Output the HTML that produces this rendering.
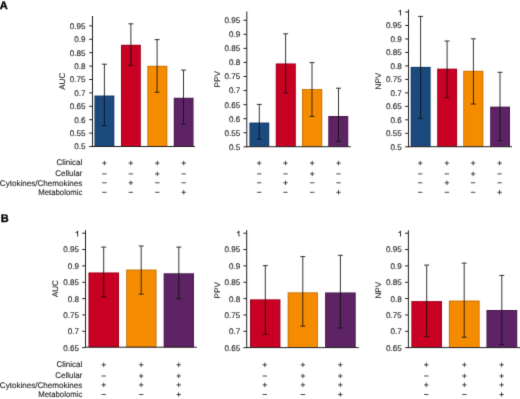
<!DOCTYPE html>
<html><head><meta charset="utf-8"><style>
html,body{margin:0;padding:0;background:#fff;}
body{width:520px;height:399px;overflow:hidden;}
svg{display:block;will-change:transform;font-family:"Liberation Sans",sans-serif;}
text{fill:#231f20;stroke:#231f20;stroke-width:0.13px;text-rendering:geometricPrecision;}
</style></head><body>
<svg width="520" height="399" viewBox="0 0 520 399">
<defs><filter id="bl" x="0" y="0" width="1" height="1" filterUnits="objectBoundingBox" primitiveUnits="userSpaceOnUse" color-interpolation-filters="sRGB"><feConvolveMatrix order="3" kernelMatrix="0.01134 0.08382 0.01134 0.08382 0.61935 0.08382 0.01134 0.08382 0.01134" divisor="1" edgeMode="duplicate"/></filter></defs>
<rect width="520" height="399" fill="#fff"/>
<g filter="url(#bl)">
<rect width="520" height="399" fill="#fff"/>
<rect x="94.50" y="95.60" width="19.80" height="50.90" fill="#1b4a7e"/>
<rect x="94.90" y="96.00" width="19.00" height="50.50" fill="none" stroke="#000" stroke-opacity="0.22" stroke-width="0.80"/>
<rect x="121.00" y="44.80" width="19.80" height="101.70" fill="#c80023"/>
<rect x="121.40" y="45.20" width="19.00" height="101.30" fill="none" stroke="#000" stroke-opacity="0.22" stroke-width="0.80"/>
<rect x="147.40" y="65.80" width="19.90" height="80.70" fill="#f58c00"/>
<rect x="147.80" y="66.20" width="19.10" height="80.30" fill="none" stroke="#000" stroke-opacity="0.22" stroke-width="0.80"/>
<rect x="173.80" y="97.80" width="19.70" height="48.70" fill="#5d2364"/>
<rect x="174.20" y="98.20" width="18.90" height="48.30" fill="none" stroke="#000" stroke-opacity="0.22" stroke-width="0.80"/>
<line x1="104.40" y1="64.20" x2="104.40" y2="125.50" stroke="#111" stroke-width="0.85"/>
<line x1="101.90" y1="64.20" x2="106.90" y2="64.20" stroke="#111" stroke-width="0.85"/>
<line x1="101.90" y1="125.50" x2="106.90" y2="125.50" stroke="#111" stroke-width="0.85"/>
<line x1="130.90" y1="23.80" x2="130.90" y2="65.30" stroke="#111" stroke-width="0.85"/>
<line x1="128.40" y1="23.80" x2="133.40" y2="23.80" stroke="#111" stroke-width="0.85"/>
<line x1="128.40" y1="65.30" x2="133.40" y2="65.30" stroke="#111" stroke-width="0.85"/>
<line x1="157.10" y1="39.60" x2="157.10" y2="92.30" stroke="#111" stroke-width="0.85"/>
<line x1="154.60" y1="39.60" x2="159.60" y2="39.60" stroke="#111" stroke-width="0.85"/>
<line x1="154.60" y1="92.30" x2="159.60" y2="92.30" stroke="#111" stroke-width="0.85"/>
<line x1="183.50" y1="70.10" x2="183.50" y2="124.00" stroke="#111" stroke-width="0.85"/>
<line x1="181.00" y1="70.10" x2="186.00" y2="70.10" stroke="#111" stroke-width="0.85"/>
<line x1="181.00" y1="124.00" x2="186.00" y2="124.00" stroke="#111" stroke-width="0.85"/>
<line x1="92.50" y1="16.00" x2="92.50" y2="147.00" stroke="#231f20" stroke-width="1"/>
<line x1="92.00" y1="146.50" x2="195.00" y2="146.50" stroke="#231f20" stroke-width="1"/>
<line x1="89.20" y1="146.50" x2="92.50" y2="146.50" stroke="#231f20" stroke-width="1"/>
<text x="85.60" y="149.40" text-anchor="end" font-size="8.1" >0.5</text>
<line x1="89.20" y1="133.10" x2="92.50" y2="133.10" stroke="#231f20" stroke-width="1"/>
<text x="85.60" y="136.00" text-anchor="end" font-size="8.1" >0.55</text>
<line x1="89.20" y1="119.70" x2="92.50" y2="119.70" stroke="#231f20" stroke-width="1"/>
<text x="85.60" y="122.60" text-anchor="end" font-size="8.1" >0.6</text>
<line x1="89.20" y1="106.30" x2="92.50" y2="106.30" stroke="#231f20" stroke-width="1"/>
<text x="85.60" y="109.20" text-anchor="end" font-size="8.1" >0.65</text>
<line x1="89.20" y1="92.90" x2="92.50" y2="92.90" stroke="#231f20" stroke-width="1"/>
<text x="85.60" y="95.80" text-anchor="end" font-size="8.1" >0.7</text>
<line x1="89.20" y1="79.50" x2="92.50" y2="79.50" stroke="#231f20" stroke-width="1"/>
<text x="85.60" y="82.40" text-anchor="end" font-size="8.1" >0.75</text>
<line x1="89.20" y1="66.10" x2="92.50" y2="66.10" stroke="#231f20" stroke-width="1"/>
<text x="85.60" y="69.00" text-anchor="end" font-size="8.1" >0.8</text>
<line x1="89.20" y1="52.70" x2="92.50" y2="52.70" stroke="#231f20" stroke-width="1"/>
<text x="85.60" y="55.60" text-anchor="end" font-size="8.1" >0.85</text>
<line x1="89.20" y1="39.30" x2="92.50" y2="39.30" stroke="#231f20" stroke-width="1"/>
<text x="85.60" y="42.20" text-anchor="end" font-size="8.1" >0.9</text>
<line x1="89.20" y1="25.90" x2="92.50" y2="25.90" stroke="#231f20" stroke-width="1"/>
<text x="85.60" y="28.80" text-anchor="end" font-size="8.1" >0.95</text>
<text x="0" y="0" text-anchor="middle" font-size="8.1" transform="translate(62.10,81.30) rotate(-90)" dy="2.90">AUC</text>
<rect x="249.50" y="122.60" width="19.70" height="24.10" fill="#1b4a7e"/>
<rect x="249.90" y="123.00" width="18.90" height="23.70" fill="none" stroke="#000" stroke-opacity="0.22" stroke-width="0.80"/>
<rect x="275.80" y="63.50" width="20.00" height="83.20" fill="#c80023"/>
<rect x="276.20" y="63.90" width="19.20" height="82.80" fill="none" stroke="#000" stroke-opacity="0.22" stroke-width="0.80"/>
<rect x="302.00" y="89.10" width="20.20" height="57.60" fill="#f58c00"/>
<rect x="302.40" y="89.50" width="19.40" height="57.20" fill="none" stroke="#000" stroke-opacity="0.22" stroke-width="0.80"/>
<rect x="328.30" y="116.00" width="19.90" height="30.70" fill="#5d2364"/>
<rect x="328.70" y="116.40" width="19.10" height="30.30" fill="none" stroke="#000" stroke-opacity="0.22" stroke-width="0.80"/>
<line x1="259.30" y1="104.40" x2="259.30" y2="139.10" stroke="#111" stroke-width="0.85"/>
<line x1="256.80" y1="104.40" x2="261.80" y2="104.40" stroke="#111" stroke-width="0.85"/>
<line x1="256.80" y1="139.10" x2="261.80" y2="139.10" stroke="#111" stroke-width="0.85"/>
<line x1="285.60" y1="33.80" x2="285.60" y2="92.90" stroke="#111" stroke-width="0.85"/>
<line x1="283.10" y1="33.80" x2="288.10" y2="33.80" stroke="#111" stroke-width="0.85"/>
<line x1="283.10" y1="92.90" x2="288.10" y2="92.90" stroke="#111" stroke-width="0.85"/>
<line x1="312.00" y1="62.60" x2="312.00" y2="116.50" stroke="#111" stroke-width="0.85"/>
<line x1="309.50" y1="62.60" x2="314.50" y2="62.60" stroke="#111" stroke-width="0.85"/>
<line x1="309.50" y1="116.50" x2="314.50" y2="116.50" stroke="#111" stroke-width="0.85"/>
<line x1="338.50" y1="88.20" x2="338.50" y2="141.30" stroke="#111" stroke-width="0.85"/>
<line x1="336.00" y1="88.20" x2="341.00" y2="88.20" stroke="#111" stroke-width="0.85"/>
<line x1="336.00" y1="141.30" x2="341.00" y2="141.30" stroke="#111" stroke-width="0.85"/>
<line x1="246.80" y1="11.50" x2="246.80" y2="147.20" stroke="#231f20" stroke-width="1"/>
<line x1="246.30" y1="146.70" x2="350.60" y2="146.70" stroke="#231f20" stroke-width="1"/>
<line x1="243.50" y1="146.80" x2="246.80" y2="146.80" stroke="#231f20" stroke-width="1"/>
<text x="240.20" y="149.70" text-anchor="end" font-size="8.1" >0.5</text>
<line x1="243.50" y1="132.74" x2="246.80" y2="132.74" stroke="#231f20" stroke-width="1"/>
<text x="240.20" y="135.64" text-anchor="end" font-size="8.1" >0.55</text>
<line x1="243.50" y1="118.68" x2="246.80" y2="118.68" stroke="#231f20" stroke-width="1"/>
<text x="240.20" y="121.58" text-anchor="end" font-size="8.1" >0.6</text>
<line x1="243.50" y1="104.62" x2="246.80" y2="104.62" stroke="#231f20" stroke-width="1"/>
<text x="240.20" y="107.52" text-anchor="end" font-size="8.1" >0.65</text>
<line x1="243.50" y1="90.56" x2="246.80" y2="90.56" stroke="#231f20" stroke-width="1"/>
<text x="240.20" y="93.46" text-anchor="end" font-size="8.1" >0.7</text>
<line x1="243.50" y1="76.50" x2="246.80" y2="76.50" stroke="#231f20" stroke-width="1"/>
<text x="240.20" y="79.40" text-anchor="end" font-size="8.1" >0.75</text>
<line x1="243.50" y1="62.44" x2="246.80" y2="62.44" stroke="#231f20" stroke-width="1"/>
<text x="240.20" y="65.34" text-anchor="end" font-size="8.1" >0.8</text>
<line x1="243.50" y1="48.38" x2="246.80" y2="48.38" stroke="#231f20" stroke-width="1"/>
<text x="240.20" y="51.28" text-anchor="end" font-size="8.1" >0.85</text>
<line x1="243.50" y1="34.32" x2="246.80" y2="34.32" stroke="#231f20" stroke-width="1"/>
<text x="240.20" y="37.22" text-anchor="end" font-size="8.1" >0.9</text>
<line x1="243.50" y1="20.26" x2="246.80" y2="20.26" stroke="#231f20" stroke-width="1"/>
<text x="240.20" y="23.16" text-anchor="end" font-size="8.1" >0.95</text>
<text x="0" y="0" text-anchor="middle" font-size="8.1" transform="translate(216.80,79.30) rotate(-90)" dy="2.90">PPV</text>
<rect x="410.70" y="66.90" width="19.90" height="79.80" fill="#1b4a7e"/>
<rect x="411.10" y="67.30" width="19.10" height="79.40" fill="none" stroke="#000" stroke-opacity="0.22" stroke-width="0.80"/>
<rect x="437.20" y="68.70" width="19.90" height="78.00" fill="#c80023"/>
<rect x="437.60" y="69.10" width="19.10" height="77.60" fill="none" stroke="#000" stroke-opacity="0.22" stroke-width="0.80"/>
<rect x="463.30" y="70.80" width="20.00" height="75.90" fill="#f58c00"/>
<rect x="463.70" y="71.20" width="19.20" height="75.50" fill="none" stroke="#000" stroke-opacity="0.22" stroke-width="0.80"/>
<rect x="490.20" y="106.70" width="19.80" height="40.00" fill="#5d2364"/>
<rect x="490.60" y="107.10" width="19.00" height="39.60" fill="none" stroke="#000" stroke-opacity="0.22" stroke-width="0.80"/>
<line x1="420.60" y1="16.40" x2="420.60" y2="118.40" stroke="#111" stroke-width="0.85"/>
<line x1="418.10" y1="16.40" x2="423.10" y2="16.40" stroke="#111" stroke-width="0.85"/>
<line x1="418.10" y1="118.40" x2="423.10" y2="118.40" stroke="#111" stroke-width="0.85"/>
<line x1="447.10" y1="41.00" x2="447.10" y2="97.70" stroke="#111" stroke-width="0.85"/>
<line x1="444.60" y1="41.00" x2="449.60" y2="41.00" stroke="#111" stroke-width="0.85"/>
<line x1="444.60" y1="97.70" x2="449.60" y2="97.70" stroke="#111" stroke-width="0.85"/>
<line x1="473.40" y1="38.80" x2="473.40" y2="104.00" stroke="#111" stroke-width="0.85"/>
<line x1="470.90" y1="38.80" x2="475.90" y2="38.80" stroke="#111" stroke-width="0.85"/>
<line x1="470.90" y1="104.00" x2="475.90" y2="104.00" stroke="#111" stroke-width="0.85"/>
<line x1="500.00" y1="72.30" x2="500.00" y2="140.50" stroke="#111" stroke-width="0.85"/>
<line x1="497.50" y1="72.30" x2="502.50" y2="72.30" stroke="#111" stroke-width="0.85"/>
<line x1="497.50" y1="140.50" x2="502.50" y2="140.50" stroke="#111" stroke-width="0.85"/>
<line x1="408.50" y1="9.50" x2="408.50" y2="147.20" stroke="#231f20" stroke-width="1"/>
<line x1="408.00" y1="146.70" x2="512.00" y2="146.70" stroke="#231f20" stroke-width="1"/>
<line x1="405.20" y1="146.80" x2="408.50" y2="146.80" stroke="#231f20" stroke-width="1"/>
<text x="401.70" y="149.70" text-anchor="end" font-size="8.1" >0.5</text>
<line x1="405.20" y1="133.32" x2="408.50" y2="133.32" stroke="#231f20" stroke-width="1"/>
<text x="401.70" y="136.22" text-anchor="end" font-size="8.1" >0.55</text>
<line x1="405.20" y1="119.84" x2="408.50" y2="119.84" stroke="#231f20" stroke-width="1"/>
<text x="401.70" y="122.74" text-anchor="end" font-size="8.1" >0.6</text>
<line x1="405.20" y1="106.36" x2="408.50" y2="106.36" stroke="#231f20" stroke-width="1"/>
<text x="401.70" y="109.26" text-anchor="end" font-size="8.1" >0.65</text>
<line x1="405.20" y1="92.88" x2="408.50" y2="92.88" stroke="#231f20" stroke-width="1"/>
<text x="401.70" y="95.78" text-anchor="end" font-size="8.1" >0.7</text>
<line x1="405.20" y1="79.40" x2="408.50" y2="79.40" stroke="#231f20" stroke-width="1"/>
<text x="401.70" y="82.30" text-anchor="end" font-size="8.1" >0.75</text>
<line x1="405.20" y1="65.92" x2="408.50" y2="65.92" stroke="#231f20" stroke-width="1"/>
<text x="401.70" y="68.82" text-anchor="end" font-size="8.1" >0.8</text>
<line x1="405.20" y1="52.44" x2="408.50" y2="52.44" stroke="#231f20" stroke-width="1"/>
<text x="401.70" y="55.34" text-anchor="end" font-size="8.1" >0.85</text>
<line x1="405.20" y1="38.96" x2="408.50" y2="38.96" stroke="#231f20" stroke-width="1"/>
<text x="401.70" y="41.86" text-anchor="end" font-size="8.1" >0.9</text>
<line x1="405.20" y1="25.48" x2="408.50" y2="25.48" stroke="#231f20" stroke-width="1"/>
<text x="401.70" y="28.38" text-anchor="end" font-size="8.1" >0.95</text>
<line x1="405.20" y1="12.00" x2="408.50" y2="12.00" stroke="#231f20" stroke-width="1"/>
<path transform="translate(400.90,15.40)" d="M0,0 V-5.75 H-0.8 C-1.0,-4.95 -1.7,-4.6 -2.6,-4.5 V-3.9 H-0.9 V0 Z" fill="#231f20"/>
<text x="0" y="0" text-anchor="middle" font-size="8.1" transform="translate(378.30,81.10) rotate(-90)" dy="2.90">NPV</text>
<line x1="102.20" y1="163.10" x2="106.60" y2="163.10" stroke="#333" stroke-width="0.9"/>
<line x1="104.40" y1="160.90" x2="104.40" y2="165.30" stroke="#333" stroke-width="0.9"/>
<line x1="128.60" y1="163.10" x2="133.00" y2="163.10" stroke="#333" stroke-width="0.9"/>
<line x1="130.80" y1="160.90" x2="130.80" y2="165.30" stroke="#333" stroke-width="0.9"/>
<line x1="155.10" y1="163.10" x2="159.50" y2="163.10" stroke="#333" stroke-width="0.9"/>
<line x1="157.30" y1="160.90" x2="157.30" y2="165.30" stroke="#333" stroke-width="0.9"/>
<line x1="181.50" y1="163.10" x2="185.90" y2="163.10" stroke="#333" stroke-width="0.9"/>
<line x1="183.70" y1="160.90" x2="183.70" y2="165.30" stroke="#333" stroke-width="0.9"/>
<line x1="102.20" y1="173.90" x2="106.60" y2="173.90" stroke="#333" stroke-width="0.9"/>
<line x1="128.60" y1="173.90" x2="133.00" y2="173.90" stroke="#333" stroke-width="0.9"/>
<line x1="155.10" y1="173.90" x2="159.50" y2="173.90" stroke="#333" stroke-width="0.9"/>
<line x1="157.30" y1="171.70" x2="157.30" y2="176.10" stroke="#333" stroke-width="0.9"/>
<line x1="181.50" y1="173.90" x2="185.90" y2="173.90" stroke="#333" stroke-width="0.9"/>
<line x1="102.20" y1="182.80" x2="106.60" y2="182.80" stroke="#333" stroke-width="0.9"/>
<line x1="128.60" y1="182.80" x2="133.00" y2="182.80" stroke="#333" stroke-width="0.9"/>
<line x1="130.80" y1="180.60" x2="130.80" y2="185.00" stroke="#333" stroke-width="0.9"/>
<line x1="155.10" y1="182.80" x2="159.50" y2="182.80" stroke="#333" stroke-width="0.9"/>
<line x1="181.50" y1="182.80" x2="185.90" y2="182.80" stroke="#333" stroke-width="0.9"/>
<line x1="102.20" y1="192.30" x2="106.60" y2="192.30" stroke="#333" stroke-width="0.9"/>
<line x1="128.60" y1="192.30" x2="133.00" y2="192.30" stroke="#333" stroke-width="0.9"/>
<line x1="155.10" y1="192.30" x2="159.50" y2="192.30" stroke="#333" stroke-width="0.9"/>
<line x1="181.50" y1="192.30" x2="185.90" y2="192.30" stroke="#333" stroke-width="0.9"/>
<line x1="183.70" y1="190.10" x2="183.70" y2="194.50" stroke="#333" stroke-width="0.9"/>
<line x1="257.00" y1="163.10" x2="261.40" y2="163.10" stroke="#333" stroke-width="0.9"/>
<line x1="259.20" y1="160.90" x2="259.20" y2="165.30" stroke="#333" stroke-width="0.9"/>
<line x1="283.30" y1="163.10" x2="287.70" y2="163.10" stroke="#333" stroke-width="0.9"/>
<line x1="285.50" y1="160.90" x2="285.50" y2="165.30" stroke="#333" stroke-width="0.9"/>
<line x1="310.00" y1="163.10" x2="314.40" y2="163.10" stroke="#333" stroke-width="0.9"/>
<line x1="312.20" y1="160.90" x2="312.20" y2="165.30" stroke="#333" stroke-width="0.9"/>
<line x1="336.30" y1="163.10" x2="340.70" y2="163.10" stroke="#333" stroke-width="0.9"/>
<line x1="338.50" y1="160.90" x2="338.50" y2="165.30" stroke="#333" stroke-width="0.9"/>
<line x1="257.00" y1="173.90" x2="261.40" y2="173.90" stroke="#333" stroke-width="0.9"/>
<line x1="283.30" y1="173.90" x2="287.70" y2="173.90" stroke="#333" stroke-width="0.9"/>
<line x1="310.00" y1="173.90" x2="314.40" y2="173.90" stroke="#333" stroke-width="0.9"/>
<line x1="312.20" y1="171.70" x2="312.20" y2="176.10" stroke="#333" stroke-width="0.9"/>
<line x1="336.30" y1="173.90" x2="340.70" y2="173.90" stroke="#333" stroke-width="0.9"/>
<line x1="257.00" y1="182.80" x2="261.40" y2="182.80" stroke="#333" stroke-width="0.9"/>
<line x1="283.30" y1="182.80" x2="287.70" y2="182.80" stroke="#333" stroke-width="0.9"/>
<line x1="285.50" y1="180.60" x2="285.50" y2="185.00" stroke="#333" stroke-width="0.9"/>
<line x1="310.00" y1="182.80" x2="314.40" y2="182.80" stroke="#333" stroke-width="0.9"/>
<line x1="336.30" y1="182.80" x2="340.70" y2="182.80" stroke="#333" stroke-width="0.9"/>
<line x1="257.00" y1="192.30" x2="261.40" y2="192.30" stroke="#333" stroke-width="0.9"/>
<line x1="283.30" y1="192.30" x2="287.70" y2="192.30" stroke="#333" stroke-width="0.9"/>
<line x1="310.00" y1="192.30" x2="314.40" y2="192.30" stroke="#333" stroke-width="0.9"/>
<line x1="336.30" y1="192.30" x2="340.70" y2="192.30" stroke="#333" stroke-width="0.9"/>
<line x1="338.50" y1="190.10" x2="338.50" y2="194.50" stroke="#333" stroke-width="0.9"/>
<line x1="418.00" y1="163.10" x2="422.40" y2="163.10" stroke="#333" stroke-width="0.9"/>
<line x1="420.20" y1="160.90" x2="420.20" y2="165.30" stroke="#333" stroke-width="0.9"/>
<line x1="444.70" y1="163.10" x2="449.10" y2="163.10" stroke="#333" stroke-width="0.9"/>
<line x1="446.90" y1="160.90" x2="446.90" y2="165.30" stroke="#333" stroke-width="0.9"/>
<line x1="470.90" y1="163.10" x2="475.30" y2="163.10" stroke="#333" stroke-width="0.9"/>
<line x1="473.10" y1="160.90" x2="473.10" y2="165.30" stroke="#333" stroke-width="0.9"/>
<line x1="497.40" y1="163.10" x2="501.80" y2="163.10" stroke="#333" stroke-width="0.9"/>
<line x1="499.60" y1="160.90" x2="499.60" y2="165.30" stroke="#333" stroke-width="0.9"/>
<line x1="418.00" y1="173.90" x2="422.40" y2="173.90" stroke="#333" stroke-width="0.9"/>
<line x1="444.70" y1="173.90" x2="449.10" y2="173.90" stroke="#333" stroke-width="0.9"/>
<line x1="470.90" y1="173.90" x2="475.30" y2="173.90" stroke="#333" stroke-width="0.9"/>
<line x1="473.10" y1="171.70" x2="473.10" y2="176.10" stroke="#333" stroke-width="0.9"/>
<line x1="497.40" y1="173.90" x2="501.80" y2="173.90" stroke="#333" stroke-width="0.9"/>
<line x1="418.00" y1="182.80" x2="422.40" y2="182.80" stroke="#333" stroke-width="0.9"/>
<line x1="444.70" y1="182.80" x2="449.10" y2="182.80" stroke="#333" stroke-width="0.9"/>
<line x1="446.90" y1="180.60" x2="446.90" y2="185.00" stroke="#333" stroke-width="0.9"/>
<line x1="470.90" y1="182.80" x2="475.30" y2="182.80" stroke="#333" stroke-width="0.9"/>
<line x1="497.40" y1="182.80" x2="501.80" y2="182.80" stroke="#333" stroke-width="0.9"/>
<line x1="418.00" y1="192.30" x2="422.40" y2="192.30" stroke="#333" stroke-width="0.9"/>
<line x1="444.70" y1="192.30" x2="449.10" y2="192.30" stroke="#333" stroke-width="0.9"/>
<line x1="470.90" y1="192.30" x2="475.30" y2="192.30" stroke="#333" stroke-width="0.9"/>
<line x1="497.40" y1="192.30" x2="501.80" y2="192.30" stroke="#333" stroke-width="0.9"/>
<line x1="499.60" y1="190.10" x2="499.60" y2="194.50" stroke="#333" stroke-width="0.9"/>
<text x="82.30" y="165.20" text-anchor="end" font-size="8.1" textLength="25.8" lengthAdjust="spacingAndGlyphs">Clinical</text>
<text x="82.30" y="176.30" text-anchor="end" font-size="8.1" textLength="27.1" lengthAdjust="spacingAndGlyphs">Cellular</text>
<text x="82.30" y="185.50" text-anchor="end" font-size="8.1" textLength="82.5" lengthAdjust="spacingAndGlyphs">Cytokines/Chemokines</text>
<text x="82.30" y="194.70" text-anchor="end" font-size="8.1" textLength="44.0" lengthAdjust="spacingAndGlyphs">Metabolomic</text>
<rect x="88.50" y="272.50" width="30.50" height="74.70" fill="#c80023"/>
<rect x="88.90" y="272.90" width="29.70" height="74.30" fill="none" stroke="#000" stroke-opacity="0.22" stroke-width="0.80"/>
<rect x="126.20" y="269.60" width="30.30" height="77.60" fill="#f58c00"/>
<rect x="126.60" y="270.00" width="29.50" height="77.20" fill="none" stroke="#000" stroke-opacity="0.22" stroke-width="0.80"/>
<rect x="163.70" y="273.30" width="30.30" height="73.90" fill="#5d2364"/>
<rect x="164.10" y="273.70" width="29.50" height="73.50" fill="none" stroke="#000" stroke-opacity="0.22" stroke-width="0.80"/>
<line x1="103.70" y1="247.10" x2="103.70" y2="296.90" stroke="#111" stroke-width="0.85"/>
<line x1="101.20" y1="247.10" x2="106.20" y2="247.10" stroke="#111" stroke-width="0.85"/>
<line x1="101.20" y1="296.90" x2="106.20" y2="296.90" stroke="#111" stroke-width="0.85"/>
<line x1="141.20" y1="246.00" x2="141.20" y2="294.10" stroke="#111" stroke-width="0.85"/>
<line x1="138.70" y1="246.00" x2="143.70" y2="246.00" stroke="#111" stroke-width="0.85"/>
<line x1="138.70" y1="294.10" x2="143.70" y2="294.10" stroke="#111" stroke-width="0.85"/>
<line x1="178.80" y1="247.10" x2="178.80" y2="298.80" stroke="#111" stroke-width="0.85"/>
<line x1="176.30" y1="247.10" x2="181.30" y2="247.10" stroke="#111" stroke-width="0.85"/>
<line x1="176.30" y1="298.80" x2="181.30" y2="298.80" stroke="#111" stroke-width="0.85"/>
<line x1="85.50" y1="230.00" x2="85.50" y2="347.70" stroke="#231f20" stroke-width="1"/>
<line x1="85.00" y1="347.20" x2="196.80" y2="347.20" stroke="#231f20" stroke-width="1"/>
<line x1="82.20" y1="347.65" x2="85.50" y2="347.65" stroke="#231f20" stroke-width="1"/>
<text x="78.90" y="350.55" text-anchor="end" font-size="8.1" >0.65</text>
<line x1="82.20" y1="331.30" x2="85.50" y2="331.30" stroke="#231f20" stroke-width="1"/>
<text x="78.90" y="334.20" text-anchor="end" font-size="8.1" >0.7</text>
<line x1="82.20" y1="314.95" x2="85.50" y2="314.95" stroke="#231f20" stroke-width="1"/>
<text x="78.90" y="317.85" text-anchor="end" font-size="8.1" >0.75</text>
<line x1="82.20" y1="298.60" x2="85.50" y2="298.60" stroke="#231f20" stroke-width="1"/>
<text x="78.90" y="301.50" text-anchor="end" font-size="8.1" >0.8</text>
<line x1="82.20" y1="282.25" x2="85.50" y2="282.25" stroke="#231f20" stroke-width="1"/>
<text x="78.90" y="285.15" text-anchor="end" font-size="8.1" >0.85</text>
<line x1="82.20" y1="265.90" x2="85.50" y2="265.90" stroke="#231f20" stroke-width="1"/>
<text x="78.90" y="268.80" text-anchor="end" font-size="8.1" >0.9</text>
<line x1="82.20" y1="249.55" x2="85.50" y2="249.55" stroke="#231f20" stroke-width="1"/>
<text x="78.90" y="252.45" text-anchor="end" font-size="8.1" >0.95</text>
<line x1="82.20" y1="233.20" x2="85.50" y2="233.20" stroke="#231f20" stroke-width="1"/>
<path transform="translate(78.10,236.60)" d="M0,0 V-5.75 H-0.8 C-1.0,-4.95 -1.7,-4.6 -2.6,-4.5 V-3.9 H-0.9 V0 Z" fill="#231f20"/>
<text x="0" y="0" text-anchor="middle" font-size="8.1" transform="translate(55.50,288.60) rotate(-90)" dy="2.90">AUC</text>
<rect x="250.00" y="299.40" width="30.40" height="48.20" fill="#c80023"/>
<rect x="250.40" y="299.80" width="29.60" height="47.80" fill="none" stroke="#000" stroke-opacity="0.22" stroke-width="0.80"/>
<rect x="287.70" y="292.40" width="30.20" height="55.20" fill="#f58c00"/>
<rect x="288.10" y="292.80" width="29.40" height="54.80" fill="none" stroke="#000" stroke-opacity="0.22" stroke-width="0.80"/>
<rect x="325.10" y="292.50" width="30.60" height="55.10" fill="#5d2364"/>
<rect x="325.50" y="292.90" width="29.80" height="54.70" fill="none" stroke="#000" stroke-opacity="0.22" stroke-width="0.80"/>
<line x1="265.30" y1="265.60" x2="265.30" y2="334.20" stroke="#111" stroke-width="0.85"/>
<line x1="262.80" y1="265.60" x2="267.80" y2="265.60" stroke="#111" stroke-width="0.85"/>
<line x1="262.80" y1="334.20" x2="267.80" y2="334.20" stroke="#111" stroke-width="0.85"/>
<line x1="302.80" y1="256.60" x2="302.80" y2="326.10" stroke="#111" stroke-width="0.85"/>
<line x1="300.30" y1="256.60" x2="305.30" y2="256.60" stroke="#111" stroke-width="0.85"/>
<line x1="300.30" y1="326.10" x2="305.30" y2="326.10" stroke="#111" stroke-width="0.85"/>
<line x1="340.40" y1="255.30" x2="340.40" y2="328.00" stroke="#111" stroke-width="0.85"/>
<line x1="337.90" y1="255.30" x2="342.90" y2="255.30" stroke="#111" stroke-width="0.85"/>
<line x1="337.90" y1="328.00" x2="342.90" y2="328.00" stroke="#111" stroke-width="0.85"/>
<line x1="246.70" y1="230.00" x2="246.70" y2="348.10" stroke="#231f20" stroke-width="1"/>
<line x1="246.20" y1="347.60" x2="358.80" y2="347.60" stroke="#231f20" stroke-width="1"/>
<line x1="243.40" y1="347.65" x2="246.70" y2="347.65" stroke="#231f20" stroke-width="1"/>
<text x="240.20" y="350.55" text-anchor="end" font-size="8.1" >0.65</text>
<line x1="243.40" y1="331.30" x2="246.70" y2="331.30" stroke="#231f20" stroke-width="1"/>
<text x="240.20" y="334.20" text-anchor="end" font-size="8.1" >0.7</text>
<line x1="243.40" y1="314.95" x2="246.70" y2="314.95" stroke="#231f20" stroke-width="1"/>
<text x="240.20" y="317.85" text-anchor="end" font-size="8.1" >0.75</text>
<line x1="243.40" y1="298.60" x2="246.70" y2="298.60" stroke="#231f20" stroke-width="1"/>
<text x="240.20" y="301.50" text-anchor="end" font-size="8.1" >0.8</text>
<line x1="243.40" y1="282.25" x2="246.70" y2="282.25" stroke="#231f20" stroke-width="1"/>
<text x="240.20" y="285.15" text-anchor="end" font-size="8.1" >0.85</text>
<line x1="243.40" y1="265.90" x2="246.70" y2="265.90" stroke="#231f20" stroke-width="1"/>
<text x="240.20" y="268.80" text-anchor="end" font-size="8.1" >0.9</text>
<line x1="243.40" y1="249.55" x2="246.70" y2="249.55" stroke="#231f20" stroke-width="1"/>
<text x="240.20" y="252.45" text-anchor="end" font-size="8.1" >0.95</text>
<line x1="243.40" y1="233.20" x2="246.70" y2="233.20" stroke="#231f20" stroke-width="1"/>
<path transform="translate(239.40,236.60)" d="M0,0 V-5.75 H-0.8 C-1.0,-4.95 -1.7,-4.6 -2.6,-4.5 V-3.9 H-0.9 V0 Z" fill="#231f20"/>
<text x="0" y="0" text-anchor="middle" font-size="8.1" transform="translate(216.80,290.30) rotate(-90)" dy="2.90">PPV</text>
<rect x="411.40" y="301.10" width="30.60" height="46.50" fill="#c80023"/>
<rect x="411.80" y="301.50" width="29.80" height="46.10" fill="none" stroke="#000" stroke-opacity="0.22" stroke-width="0.80"/>
<rect x="448.90" y="300.60" width="30.70" height="47.00" fill="#f58c00"/>
<rect x="449.30" y="301.00" width="29.90" height="46.60" fill="none" stroke="#000" stroke-opacity="0.22" stroke-width="0.80"/>
<rect x="486.50" y="310.00" width="30.70" height="37.60" fill="#5d2364"/>
<rect x="486.90" y="310.40" width="29.90" height="37.20" fill="none" stroke="#000" stroke-opacity="0.22" stroke-width="0.80"/>
<line x1="426.70" y1="265.10" x2="426.70" y2="336.60" stroke="#111" stroke-width="0.85"/>
<line x1="424.20" y1="265.10" x2="429.20" y2="265.10" stroke="#111" stroke-width="0.85"/>
<line x1="424.20" y1="336.60" x2="429.20" y2="336.60" stroke="#111" stroke-width="0.85"/>
<line x1="464.20" y1="263.10" x2="464.20" y2="337.20" stroke="#111" stroke-width="0.85"/>
<line x1="461.70" y1="263.10" x2="466.70" y2="263.10" stroke="#111" stroke-width="0.85"/>
<line x1="461.70" y1="337.20" x2="466.70" y2="337.20" stroke="#111" stroke-width="0.85"/>
<line x1="501.80" y1="275.40" x2="501.80" y2="344.60" stroke="#111" stroke-width="0.85"/>
<line x1="499.30" y1="275.40" x2="504.30" y2="275.40" stroke="#111" stroke-width="0.85"/>
<line x1="499.30" y1="344.60" x2="504.30" y2="344.60" stroke="#111" stroke-width="0.85"/>
<line x1="408.40" y1="230.30" x2="408.40" y2="348.10" stroke="#231f20" stroke-width="1"/>
<line x1="407.90" y1="347.60" x2="520.00" y2="347.60" stroke="#231f20" stroke-width="1"/>
<line x1="405.10" y1="347.65" x2="408.40" y2="347.65" stroke="#231f20" stroke-width="1"/>
<text x="401.70" y="350.55" text-anchor="end" font-size="8.1" >0.65</text>
<line x1="405.10" y1="331.30" x2="408.40" y2="331.30" stroke="#231f20" stroke-width="1"/>
<text x="401.70" y="334.20" text-anchor="end" font-size="8.1" >0.7</text>
<line x1="405.10" y1="314.95" x2="408.40" y2="314.95" stroke="#231f20" stroke-width="1"/>
<text x="401.70" y="317.85" text-anchor="end" font-size="8.1" >0.75</text>
<line x1="405.10" y1="298.60" x2="408.40" y2="298.60" stroke="#231f20" stroke-width="1"/>
<text x="401.70" y="301.50" text-anchor="end" font-size="8.1" >0.8</text>
<line x1="405.10" y1="282.25" x2="408.40" y2="282.25" stroke="#231f20" stroke-width="1"/>
<text x="401.70" y="285.15" text-anchor="end" font-size="8.1" >0.85</text>
<line x1="405.10" y1="265.90" x2="408.40" y2="265.90" stroke="#231f20" stroke-width="1"/>
<text x="401.70" y="268.80" text-anchor="end" font-size="8.1" >0.9</text>
<line x1="405.10" y1="249.55" x2="408.40" y2="249.55" stroke="#231f20" stroke-width="1"/>
<text x="401.70" y="252.45" text-anchor="end" font-size="8.1" >0.95</text>
<line x1="405.10" y1="233.20" x2="408.40" y2="233.20" stroke="#231f20" stroke-width="1"/>
<path transform="translate(400.90,236.60)" d="M0,0 V-5.75 H-0.8 C-1.0,-4.95 -1.7,-4.6 -2.6,-4.5 V-3.9 H-0.9 V0 Z" fill="#231f20"/>
<text x="0" y="0" text-anchor="middle" font-size="8.1" transform="translate(378.30,290.20) rotate(-90)" dy="2.90">NPV</text>
<line x1="101.50" y1="364.80" x2="105.90" y2="364.80" stroke="#333" stroke-width="0.9"/>
<line x1="103.70" y1="362.60" x2="103.70" y2="367.00" stroke="#333" stroke-width="0.9"/>
<line x1="139.00" y1="364.80" x2="143.40" y2="364.80" stroke="#333" stroke-width="0.9"/>
<line x1="141.20" y1="362.60" x2="141.20" y2="367.00" stroke="#333" stroke-width="0.9"/>
<line x1="176.50" y1="364.80" x2="180.90" y2="364.80" stroke="#333" stroke-width="0.9"/>
<line x1="178.70" y1="362.60" x2="178.70" y2="367.00" stroke="#333" stroke-width="0.9"/>
<line x1="101.50" y1="376.00" x2="105.90" y2="376.00" stroke="#333" stroke-width="0.9"/>
<line x1="139.00" y1="376.00" x2="143.40" y2="376.00" stroke="#333" stroke-width="0.9"/>
<line x1="141.20" y1="373.80" x2="141.20" y2="378.20" stroke="#333" stroke-width="0.9"/>
<line x1="176.50" y1="376.00" x2="180.90" y2="376.00" stroke="#333" stroke-width="0.9"/>
<line x1="178.70" y1="373.80" x2="178.70" y2="378.20" stroke="#333" stroke-width="0.9"/>
<line x1="101.50" y1="384.90" x2="105.90" y2="384.90" stroke="#333" stroke-width="0.9"/>
<line x1="103.70" y1="382.70" x2="103.70" y2="387.10" stroke="#333" stroke-width="0.9"/>
<line x1="139.00" y1="384.90" x2="143.40" y2="384.90" stroke="#333" stroke-width="0.9"/>
<line x1="141.20" y1="382.70" x2="141.20" y2="387.10" stroke="#333" stroke-width="0.9"/>
<line x1="176.50" y1="384.90" x2="180.90" y2="384.90" stroke="#333" stroke-width="0.9"/>
<line x1="178.70" y1="382.70" x2="178.70" y2="387.10" stroke="#333" stroke-width="0.9"/>
<line x1="101.50" y1="394.50" x2="105.90" y2="394.50" stroke="#333" stroke-width="0.9"/>
<line x1="139.00" y1="394.50" x2="143.40" y2="394.50" stroke="#333" stroke-width="0.9"/>
<line x1="176.50" y1="394.50" x2="180.90" y2="394.50" stroke="#333" stroke-width="0.9"/>
<line x1="178.70" y1="392.30" x2="178.70" y2="396.70" stroke="#333" stroke-width="0.9"/>
<line x1="262.60" y1="364.80" x2="267.00" y2="364.80" stroke="#333" stroke-width="0.9"/>
<line x1="264.80" y1="362.60" x2="264.80" y2="367.00" stroke="#333" stroke-width="0.9"/>
<line x1="300.70" y1="364.80" x2="305.10" y2="364.80" stroke="#333" stroke-width="0.9"/>
<line x1="302.90" y1="362.60" x2="302.90" y2="367.00" stroke="#333" stroke-width="0.9"/>
<line x1="338.10" y1="364.80" x2="342.50" y2="364.80" stroke="#333" stroke-width="0.9"/>
<line x1="340.30" y1="362.60" x2="340.30" y2="367.00" stroke="#333" stroke-width="0.9"/>
<line x1="262.60" y1="376.00" x2="267.00" y2="376.00" stroke="#333" stroke-width="0.9"/>
<line x1="300.70" y1="376.00" x2="305.10" y2="376.00" stroke="#333" stroke-width="0.9"/>
<line x1="302.90" y1="373.80" x2="302.90" y2="378.20" stroke="#333" stroke-width="0.9"/>
<line x1="338.10" y1="376.00" x2="342.50" y2="376.00" stroke="#333" stroke-width="0.9"/>
<line x1="340.30" y1="373.80" x2="340.30" y2="378.20" stroke="#333" stroke-width="0.9"/>
<line x1="262.60" y1="384.90" x2="267.00" y2="384.90" stroke="#333" stroke-width="0.9"/>
<line x1="264.80" y1="382.70" x2="264.80" y2="387.10" stroke="#333" stroke-width="0.9"/>
<line x1="300.70" y1="384.90" x2="305.10" y2="384.90" stroke="#333" stroke-width="0.9"/>
<line x1="302.90" y1="382.70" x2="302.90" y2="387.10" stroke="#333" stroke-width="0.9"/>
<line x1="338.10" y1="384.90" x2="342.50" y2="384.90" stroke="#333" stroke-width="0.9"/>
<line x1="340.30" y1="382.70" x2="340.30" y2="387.10" stroke="#333" stroke-width="0.9"/>
<line x1="262.60" y1="394.50" x2="267.00" y2="394.50" stroke="#333" stroke-width="0.9"/>
<line x1="300.70" y1="394.50" x2="305.10" y2="394.50" stroke="#333" stroke-width="0.9"/>
<line x1="338.10" y1="394.50" x2="342.50" y2="394.50" stroke="#333" stroke-width="0.9"/>
<line x1="340.30" y1="392.30" x2="340.30" y2="396.70" stroke="#333" stroke-width="0.9"/>
<line x1="424.10" y1="364.80" x2="428.50" y2="364.80" stroke="#333" stroke-width="0.9"/>
<line x1="426.30" y1="362.60" x2="426.30" y2="367.00" stroke="#333" stroke-width="0.9"/>
<line x1="462.20" y1="364.80" x2="466.60" y2="364.80" stroke="#333" stroke-width="0.9"/>
<line x1="464.40" y1="362.60" x2="464.40" y2="367.00" stroke="#333" stroke-width="0.9"/>
<line x1="499.40" y1="364.80" x2="503.80" y2="364.80" stroke="#333" stroke-width="0.9"/>
<line x1="501.60" y1="362.60" x2="501.60" y2="367.00" stroke="#333" stroke-width="0.9"/>
<line x1="424.10" y1="376.00" x2="428.50" y2="376.00" stroke="#333" stroke-width="0.9"/>
<line x1="462.20" y1="376.00" x2="466.60" y2="376.00" stroke="#333" stroke-width="0.9"/>
<line x1="464.40" y1="373.80" x2="464.40" y2="378.20" stroke="#333" stroke-width="0.9"/>
<line x1="499.40" y1="376.00" x2="503.80" y2="376.00" stroke="#333" stroke-width="0.9"/>
<line x1="501.60" y1="373.80" x2="501.60" y2="378.20" stroke="#333" stroke-width="0.9"/>
<line x1="424.10" y1="384.90" x2="428.50" y2="384.90" stroke="#333" stroke-width="0.9"/>
<line x1="426.30" y1="382.70" x2="426.30" y2="387.10" stroke="#333" stroke-width="0.9"/>
<line x1="462.20" y1="384.90" x2="466.60" y2="384.90" stroke="#333" stroke-width="0.9"/>
<line x1="464.40" y1="382.70" x2="464.40" y2="387.10" stroke="#333" stroke-width="0.9"/>
<line x1="499.40" y1="384.90" x2="503.80" y2="384.90" stroke="#333" stroke-width="0.9"/>
<line x1="501.60" y1="382.70" x2="501.60" y2="387.10" stroke="#333" stroke-width="0.9"/>
<line x1="424.10" y1="394.50" x2="428.50" y2="394.50" stroke="#333" stroke-width="0.9"/>
<line x1="462.20" y1="394.50" x2="466.60" y2="394.50" stroke="#333" stroke-width="0.9"/>
<line x1="499.40" y1="394.50" x2="503.80" y2="394.50" stroke="#333" stroke-width="0.9"/>
<line x1="501.60" y1="392.30" x2="501.60" y2="396.70" stroke="#333" stroke-width="0.9"/>
<text x="82.30" y="367.20" text-anchor="end" font-size="8.1" textLength="25.8" lengthAdjust="spacingAndGlyphs">Clinical</text>
<text x="82.30" y="378.00" text-anchor="end" font-size="8.1" textLength="27.1" lengthAdjust="spacingAndGlyphs">Cellular</text>
<text x="82.30" y="387.90" text-anchor="end" font-size="8.1" textLength="82.5" lengthAdjust="spacingAndGlyphs">Cytokines/Chemokines</text>
<text x="82.30" y="396.60" text-anchor="end" font-size="8.1" textLength="44.0" lengthAdjust="spacingAndGlyphs">Metabolomic</text>
<text x="-0.3" y="9.3" font-size="11" font-weight="bold" style="fill:#000;stroke:#000;stroke-width:0.35">A</text>
<text x="0.8" y="222" font-size="11" font-weight="bold" style="fill:#000;stroke:#000;stroke-width:0.35">B</text>
</g>
</svg>
</body></html>
